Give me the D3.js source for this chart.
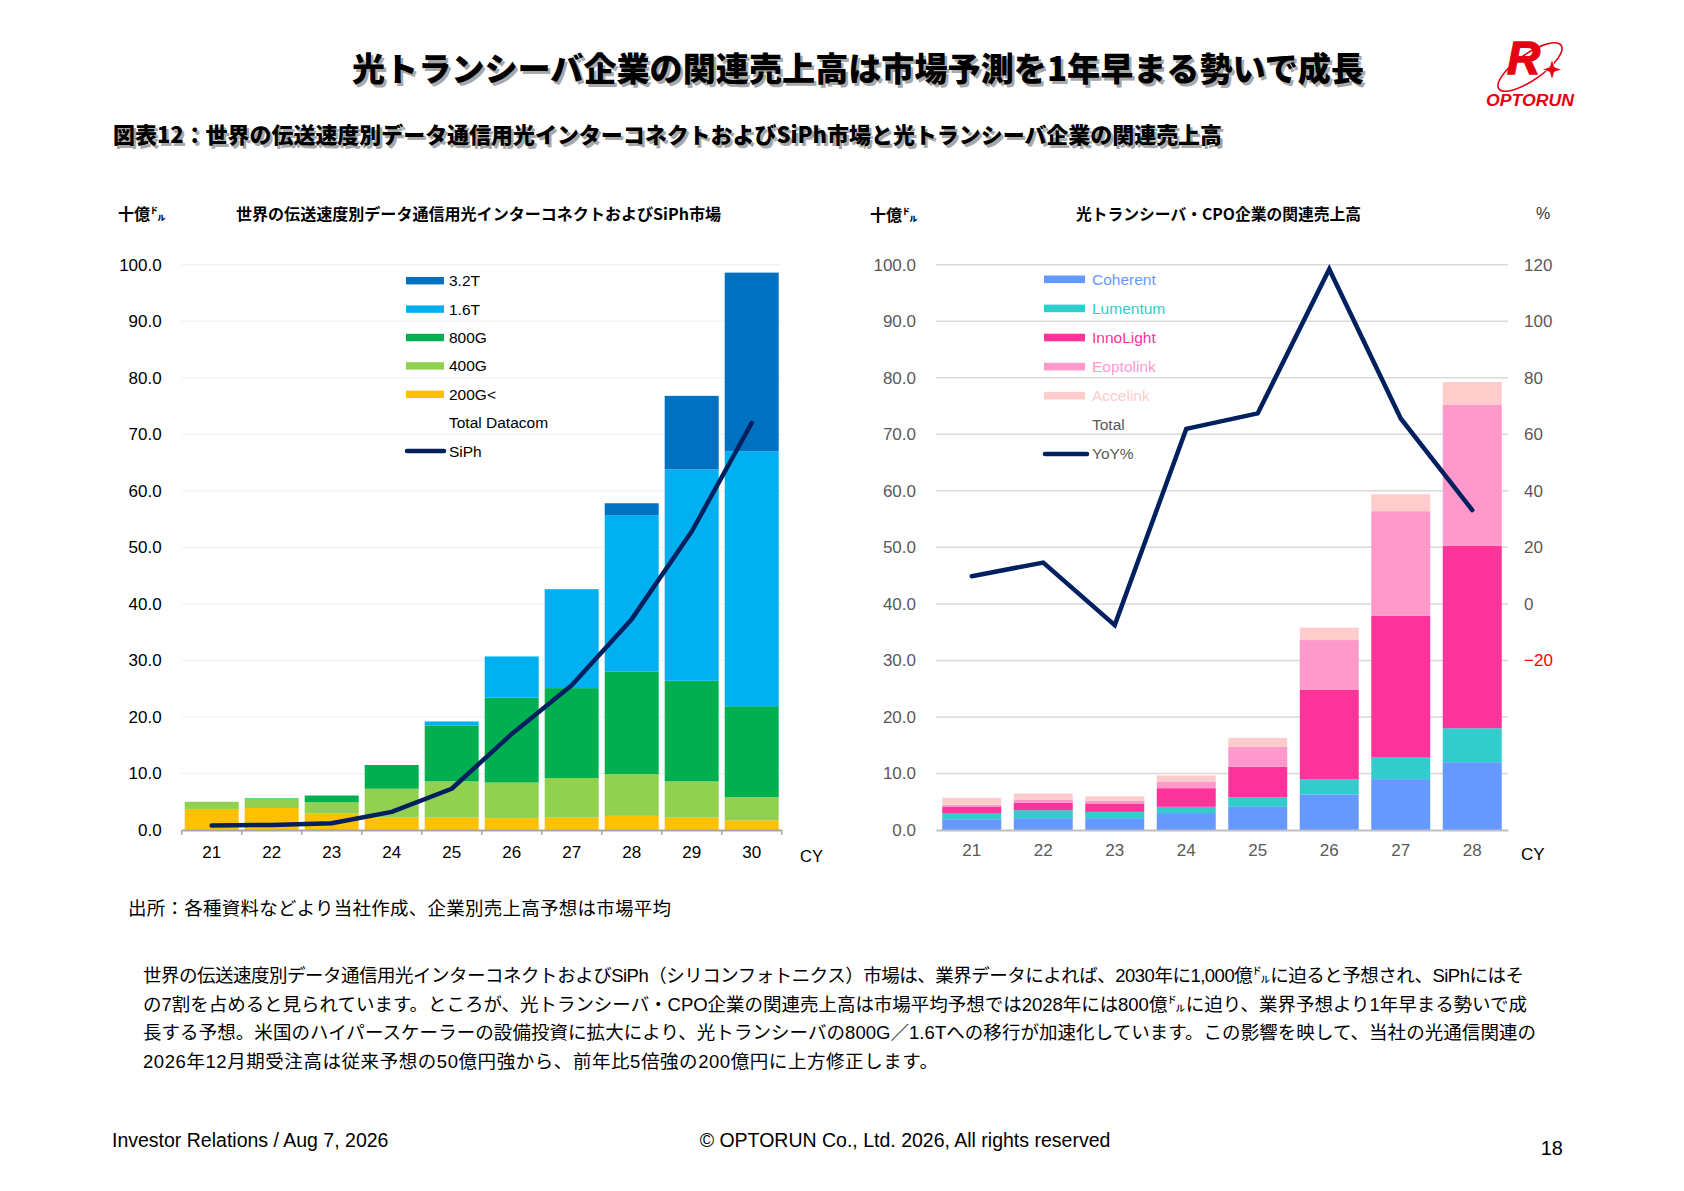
<!DOCTYPE html>
<meta charset="utf-8">
<title>光トランシーバ企業の関連売上高</title>
<style>
body { margin: 0; background: #fff; }
svg { display: block; font-family: "Liberation Sans", Arial, "Noto Sans CJK JP", sans-serif; }
.heavy { font-family: "Noto Sans CJK JP", sans-serif; font-weight: 900; }
.bold { font-family: "Noto Sans CJK JP", sans-serif; font-weight: 700; }
.body { font-family: "Liberation Sans", Arial, "Noto Sans CJK JP", sans-serif; }
</style>
<body>
<svg id="slide" width="1684" height="1191"></svg>
<script src="https://cdn.jsdelivr.net/npm/d3@7"></script>
<script>
// ---- left chart data (十億ドル)
var yearsL = ["21", "22", "23", "24", "25", "26", "27", "28", "29", "30"];
var g200 = [3.7, 3.9, 2.9, 2.2, 2.2, 2.1, 2.2, 2.5, 2.2, 1.7];
var g400 = [1.3, 1.6, 2.0, 5.1, 6.4, 6.3, 7.0, 7.4, 6.4, 4.1];
var g800 = [0.0, 0.1, 1.2, 4.2, 9.9, 15.0, 15.9, 18.1, 17.8, 16.1];
var t16  = [0.0, 0.0, 0.0, 0.0, 0.7, 7.3, 17.5, 27.7, 37.4, 45.1];
var t32  = [0.0, 0.0, 0.0, 0.0, 0.0, 0.0, 0.0, 2.1, 13.0, 31.6];
var siph = [0.8, 0.9, 1.2, 3.2, 7.3, 17.0, 25.6, 37.3, 52.8, 72.0];
var ticksL = [0, 10, 20, 30, 40, 50, 60, 70, 80, 90, 100];

// ---- right chart data (十億ドル, %)
var yearsR = ["21", "22", "23", "24", "25", "26", "27", "28"];
var coherent  = [1.9, 2.1, 2.1, 3.0, 4.1, 6.3, 9.0, 12.0];
var lumentum  = [1.1, 1.4, 1.1, 1.1, 1.7, 2.7, 3.9, 6.0];
var innolight = [1.1, 1.3, 1.5, 3.3, 5.4, 15.8, 25.0, 32.3];
var eoptolink = [0.35, 0.6, 0.45, 1.2, 3.5, 8.8, 18.5, 24.9];
var accelink  = [1.25, 1.05, 0.8, 1.05, 1.6, 2.2, 3.0, 4.05];
var yoy = [9.8, 14.6, -7.5, 61.9, 67.4, 118.4, 65.6, 33.2];
var ticksR2 = [-20, 0, 20, 40, 60, 80, 100, 120];

var bodyLines = [
  "世界の伝送速度別データ通信用光インターコネクトおよびSiPh（シリコンフォトニクス）市場は、業界データによれば、2030年に1,000億㌦に迫ると予想され、SiPhにはそ",
  "の7割を占めると見られています。ところが、光トランシーバ・CPO企業の関連売上高は市場平均予想では2028年には800億㌦に迫り、業界予想より1年早まる勢いで成",
  "長する予想。米国のハイパースケーラーの設備投資に拡大により、光トランシーバの800G／1.6Tへの移行が加速化しています。この影響を映して、当社の光通信関連の",
  "2026年12月期受注高は従来予想の50億円強から、前年比5倍強の200億円に上方修正します。"
];

var svg = d3.select("#slide");
svg.append("rect").attr("width", 1684).attr("height", 1191).attr("fill", "#fff");

// ---- headings (with grey shadow)
function shadowText(x, y, str, size, len, cls) {
  [["#a8a8a8", 2.5], ["#000", 0]].forEach(function(p) {
    svg.append("text")
      .attr("class", cls)
      .attr("x", x + p[1]).attr("y", y + p[1])
      .attr("font-size", size)
      .attr("textLength", len)
      .attr("lengthAdjust", "spacingAndGlyphs")
      .attr("fill", p[0])
      .text(str);
  });
}
shadowText(352, 81, "光トランシーバ企業の関連売上高は市場予測を1年早まる勢いで成長", 33, 1012, "heavy");
shadowText(113, 143, "図表12：世界の伝送速度別データ通信用光インターコネクトおよびSiPh市場と光トランシーバ企業の関連売上高", 22, 1109, "heavy");

// ---- logo
var logo = svg.append("g");
logo.append("ellipse")
  .attr("cx", 1530).attr("cy", 67).attr("rx", 38).attr("ry", 13)
  .attr("transform", "rotate(-35 1530 67)")
  .attr("fill", "none").attr("stroke", "#e60012").attr("stroke-width", 1.6);
logo.append("text")
  .attr("x", 1507).attr("y", 74)
  .attr("font-size", 46).attr("font-weight", 700).attr("font-style", "italic")
  .attr("fill", "#e60012").attr("stroke", "#e60012").attr("stroke-width", 1.4)
  .text("R");
logo.append("path")
  .attr("d", "M1552,59 L1554.5,67 L1562,69.5 L1554.5,72 L1552,80 L1549.5,72 L1542,69.5 L1549.5,67 Z")
  .attr("fill", "#e60012").attr("stroke", "#fff").attr("stroke-width", 0.8);
logo.append("text")
  .attr("x", 1486).attr("y", 106)
  .attr("font-size", 16).attr("font-weight", 700).attr("font-style", "italic")
  .attr("textLength", 88).attr("lengthAdjust", "spacingAndGlyphs")
  .attr("fill", "#e60012")
  .text("OPTORUN");

// ================= left chart =================
var xL = d3.scaleBand().domain(yearsL).range([181.7, 781.7]).paddingInner(0.1).paddingOuter(0.05);
var yL = d3.scaleLinear().domain([0, 100]).range([830, 264.7]);

var leftKeys = ["200G<", "400G", "800G", "1.6T", "3.2T"];
var leftVals = { "200G<": g200, "400G": g400, "800G": g800, "1.6T": t16, "3.2T": t32 };
var leftColors = { "200G<": "#ffc000", "400G": "#92d050", "800G": "#00b050", "1.6T": "#00b0f0", "3.2T": "#0070c0" };

var rowsL = yearsL.map(function(yr, i) {
  var r = { year: yr };
  leftKeys.forEach(function(k) { r[k] = leftVals[k][i]; });
  return r;
});

svg.append("text").attr("class", "bold").attr("x", 118).attr("y", 220).attr("font-size", 16).text("十億㌦");
svg.append("text").attr("class", "bold").attr("x", 236).attr("y", 220).attr("font-size", 16)
  .attr("textLength", 485).attr("lengthAdjust", "spacingAndGlyphs")
  .text("世界の伝送速度別データ通信用光インターコネクトおよびSiPh市場");

svg.append("g").selectAll("line")
  .data(ticksL.slice(1))
  .enter().append("line")
    .attr("x1", 181.7).attr("x2", 781.7)
    .attr("y1", function(d) { return yL(d); }).attr("y2", function(d) { return yL(d); })
    .attr("stroke", "#eeeeee").attr("stroke-width", 1);

var gyL = svg.append("g").attr("transform", "translate(181.7,0)")
  .call(d3.axisLeft(yL).tickValues(ticksL).tickFormat(d3.format(".1f")).tickSize(0).tickPadding(20));
gyL.select(".domain").remove();
gyL.attr("font-family", null).attr("font-size", 17);
gyL.selectAll("text").attr("fill", "#000");

svg.append("g").selectAll("g")
  .data(d3.stack().keys(leftKeys)(rowsL))
  .enter().append("g")
    .attr("fill", function(s) { return leftColors[s.key]; })
  .selectAll("rect")
  .data(function(s) { return s; })
  .enter().append("rect")
    .attr("x", function(d) { return xL(d.data.year); })
    .attr("width", xL.bandwidth())
    .attr("y", function(d) { return yL(d[1]); })
    .attr("height", function(d) { return yL(d[0]) - yL(d[1]); });

var gxL = svg.append("g").attr("transform", "translate(0,830)")
  .call(d3.axisBottom(xL).tickSize(0).tickPadding(16));
gxL.attr("font-family", null).attr("font-size", 17);
gxL.select(".domain").attr("stroke", "#a6a6a6").attr("stroke-width", 2);
gxL.selectAll("text").attr("fill", "#000");
// category boundary ticks
var stepL = xL.step();
gxL.selectAll(".bnd")
  .data(yearsL.concat(["end"]))
  .enter().append("line")
    .attr("x1", function(d, i) { return xL.range()[0] + i * stepL; })
    .attr("x2", function(d, i) { return xL.range()[0] + i * stepL; })
    .attr("y1", 0).attr("y2", 5)
    .attr("stroke", "#a6a6a6").attr("stroke-width", 1.5);
svg.append("text").attr("x", 800).attr("y", 862).attr("font-size", 16.5).text("CY");

var lineL = d3.line()
  .x(function(d, i) { return xL(yearsL[i]) + xL.bandwidth() / 2; })
  .y(function(d) { return yL(d); });
svg.append("path")
  .attr("d", lineL(siph))
  .attr("fill", "none").attr("stroke", "#002060").attr("stroke-width", 4.5)
  .attr("stroke-linecap", "round").attr("stroke-linejoin", "round");

// legend (left)
var legL = [
  { name: "3.2T", type: "bar" }, { name: "1.6T", type: "bar" }, { name: "800G", type: "bar" },
  { name: "400G", type: "bar" }, { name: "200G<", type: "bar" },
  { name: "Total Datacom", type: "none" }, { name: "SiPh", type: "line" }
];
var gl = svg.append("g").selectAll("g")
  .data(legL)
  .enter().append("g")
    .attr("transform", function(d, i) { return "translate(406," + (280.7 + i * 28.4) + ")"; });
gl.filter(function(d) { return d.type === "bar"; }).append("rect")
  .attr("x", 0).attr("y", -3.7).attr("width", 38).attr("height", 7.4)
  .attr("fill", function(d) { return leftColors[d.name]; });
gl.filter(function(d) { return d.type === "line"; }).append("line")
  .attr("x1", 1).attr("x2", 38).attr("y1", 0).attr("y2", 0)
  .attr("stroke", "#002060").attr("stroke-width", 4.5).attr("stroke-linecap", "round");
gl.append("text")
  .attr("x", 43).attr("dy", "0.36em").attr("font-size", 15.5).attr("fill", "#000")
  .text(function(d) { return d.name; });

// ================= right chart =================
var xR = d3.scaleBand().domain(yearsR).range([936, 1508]).paddingInner(0.175).paddingOuter(0.0875);
var yR = d3.scaleLinear().domain([0, 100]).range([830, 264.7]);
var yR2 = d3.scaleLinear().domain([-80, 120]).range([830, 264.7]);

var rightKeys = ["Coherent", "Lumentum", "InnoLight", "Eoptolink", "Accelink"];
var rightVals = { Coherent: coherent, Lumentum: lumentum, InnoLight: innolight, Eoptolink: eoptolink, Accelink: accelink };
var rightColors = { Coherent: "#6699ff", Lumentum: "#33cccc", InnoLight: "#ff3399", Eoptolink: "#ff99cc", Accelink: "#ffcccc" };

var rowsR = yearsR.map(function(yr, i) {
  var r = { year: yr };
  rightKeys.forEach(function(k) { r[k] = rightVals[k][i]; });
  return r;
});

svg.append("text").attr("class", "bold").attr("x", 870).attr("y", 221).attr("font-size", 16).text("十億㌦");
svg.append("text").attr("class", "bold").attr("x", 1076).attr("y", 220).attr("font-size", 16)
  .attr("textLength", 285).attr("lengthAdjust", "spacingAndGlyphs")
  .text("光トランシーバ・CPO企業の関連売上高");
svg.append("text").attr("x", 1536).attr("y", 219).attr("font-size", 16).attr("fill", "#333").text("%");

svg.append("g").selectAll("line")
  .data(ticksL.slice(1))
  .enter().append("line")
    .attr("x1", 936).attr("x2", 1508)
    .attr("y1", function(d) { return yR(d); }).attr("y2", function(d) { return yR(d); })
    .attr("stroke", "#d9d9d9").attr("stroke-width", 1.5);

var gyR = svg.append("g").attr("transform", "translate(936,0)")
  .call(d3.axisLeft(yR).tickValues(ticksL).tickFormat(d3.format(".1f")).tickSize(0).tickPadding(20));
gyR.select(".domain").remove();
gyR.attr("font-family", null).attr("font-size", 17);
gyR.selectAll("text").attr("fill", "#595959");

var gyR2 = svg.append("g").attr("transform", "translate(1508,0)")
  .call(d3.axisRight(yR2).tickValues(ticksR2).tickSize(0).tickPadding(16));
gyR2.select(".domain").remove();
gyR2.attr("font-family", null).attr("font-size", 17);
gyR2.selectAll("text").attr("fill", function(d) { return d < 0 ? "#ff0000" : "#595959"; });

svg.append("g").selectAll("g")
  .data(d3.stack().keys(rightKeys)(rowsR))
  .enter().append("g")
    .attr("fill", function(s) { return rightColors[s.key]; })
  .selectAll("rect")
  .data(function(s) { return s; })
  .enter().append("rect")
    .attr("x", function(d) { return xR(d.data.year); })
    .attr("width", xR.bandwidth())
    .attr("y", function(d) { return yR(d[1]); })
    .attr("height", function(d) { return yR(d[0]) - yR(d[1]); });

var gxR = svg.append("g").attr("transform", "translate(0,830)")
  .call(d3.axisBottom(xR).tickSize(0).tickPadding(14));
gxR.attr("font-family", null).attr("font-size", 17);
gxR.select(".domain").attr("stroke", "#bfbfbf").attr("stroke-width", 2);
gxR.selectAll("text").attr("fill", "#595959");
svg.append("text").attr("x", 1521).attr("y", 860).attr("font-size", 17).attr("fill", "#000").text("CY");

var lineR = d3.line()
  .x(function(d, i) { return xR(yearsR[i]) + xR.bandwidth() / 2; })
  .y(function(d) { return yR2(d); });
svg.append("path")
  .attr("d", lineR(yoy))
  .attr("fill", "none").attr("stroke", "#002060").attr("stroke-width", 4.5)
  .attr("stroke-linecap", "round").attr("stroke-linejoin", "miter");

// legend (right)
var legR = rightKeys.map(function(k) { return { name: k, type: "bar", color: rightColors[k] }; })
  .concat([{ name: "Total", type: "none", color: "#595959" }, { name: "YoY%", type: "line", color: "#595959" }]);
var gr = svg.append("g").selectAll("g")
  .data(legR)
  .enter().append("g")
    .attr("transform", function(d, i) { return "translate(1044," + (279.3 + i * 29.1) + ")"; });
gr.filter(function(d) { return d.type === "bar"; }).append("rect")
  .attr("x", 0).attr("y", -3.8).attr("width", 41).attr("height", 7.6)
  .attr("fill", function(d) { return d.color; });
gr.filter(function(d) { return d.type === "line"; }).append("line")
  .attr("x1", 1).attr("x2", 43).attr("y1", 0).attr("y2", 0)
  .attr("stroke", "#002060").attr("stroke-width", 4.5).attr("stroke-linecap", "round");
gr.append("text")
  .attr("x", 48).attr("dy", "0.36em").attr("font-size", 15.5)
  .attr("fill", function(d) { return d.color; })
  .text(function(d) { return d.name; });

// ================= notes & footer =================
svg.append("text").attr("class", "body").attr("x", 128).attr("y", 915).attr("font-size", 18.5)
  .attr("textLength", 543).attr("lengthAdjust", "spacing")
  .text("出所：各種資料などより当社作成、企業別売上高予想は市場平均");

var lineEnds = [1524, 1527, 1536, 938];
svg.append("g").selectAll("text")
  .data(bodyLines)
  .enter().append("text")
    .attr("class", "body")
    .attr("x", 143)
    .attr("y", function(d, i) { return 982 + i * 28.6; })
    .attr("font-size", 18.5)
    .attr("textLength", function(d, i) { return lineEnds[i] - 143; })
    .attr("lengthAdjust", "spacing")
    .text(function(d) { return d; });

svg.append("text").attr("x", 112).attr("y", 1147).attr("font-size", 19.5).text("Investor Relations / Aug 7, 2026");
svg.append("text").attr("x", 905).attr("y", 1147).attr("font-size", 19.5).attr("text-anchor", "middle")
  .text("© OPTORUN Co., Ltd. 2026, All rights reserved");
svg.append("text").attr("x", 1563).attr("y", 1155).attr("font-size", 20).attr("text-anchor", "end").text("18");
</script>
</body>
